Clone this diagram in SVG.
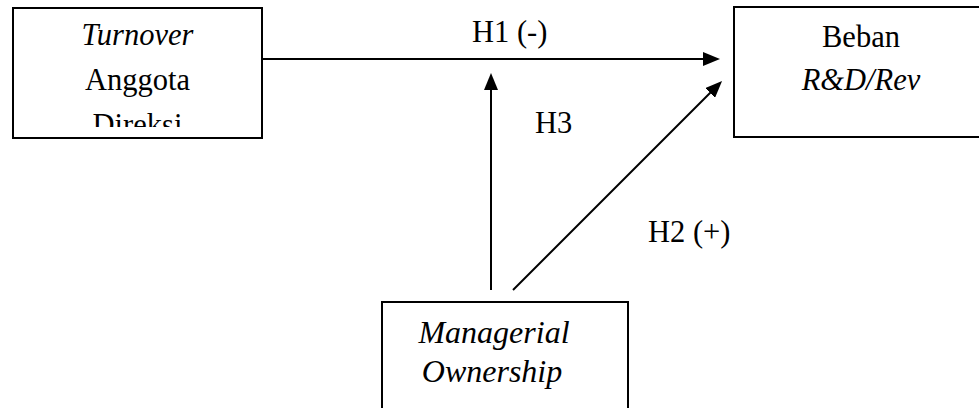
<svg xmlns="http://www.w3.org/2000/svg" width="979" height="408" viewBox="0 0 979 408">
<style>
  .box { fill: #ffffff; stroke: #000000; stroke-width: 2; }
  text { font-family: 'Liberation Serif', 'Times New Roman', serif; font-size: 30.5px; fill: #000000; }
  .i { font-style: italic; }
  .c { text-anchor: middle; }
  .conn { stroke: #000000; stroke-width: 2; fill: none; marker-end: url(#arr); }
</style>
<defs>
  <marker id="arr" viewBox="0 0 17 14" refX="7" refY="7" markerWidth="17" markerHeight="14" markerUnits="userSpaceOnUse" orient="auto">
    <path d="M0,0 L17,7 L0,14 Z" fill="#000000"/>
  </marker>
  <clipPath id="clipL">
    <rect x="13" y="7" width="249" height="120"/>
  </clipPath>
</defs>
<rect width="979" height="408" fill="#ffffff"/>
<g id="node-turnover">
  <rect class="box" x="13" y="8" width="249" height="130"/>
  <g clip-path="url(#clipL)">
    <text class="i c" x="137.5" y="45">Turnover</text>
    <text class="c" x="137.5" y="90">Anggota</text>
    <text class="c" x="137.5" y="135">Direksi</text>
  </g>
</g>
<g id="node-beban">
  <rect class="box" x="734" y="7" width="260" height="130"/>
  <text class="c" x="861" y="47">Beban</text>
  <text class="i c" x="861" y="90">R&amp;D/Rev</text>
</g>
<g id="node-managerial">
  <rect class="box" x="382" y="302" width="246" height="120"/>
  <text class="i c" x="494" y="343" style="font-size:32px">Managerial</text>
  <text class="i c" x="492" y="382" style="font-size:32px">Ownership</text>
</g>
<g id="connectors">
  <line class="conn" x1="262" y1="59" x2="710" y2="59"/>
  <line class="conn" x1="491" y1="290" x2="491" y2="83"/>
  <line class="conn" x1="513" y1="290" x2="715" y2="88"/>
</g>
<g id="labels">
  <text x="472" y="42">H1 (-)</text>
  <text x="535" y="133">H3</text>
  <text x="648" y="242">H2 (+)</text>
</g>
</svg>
